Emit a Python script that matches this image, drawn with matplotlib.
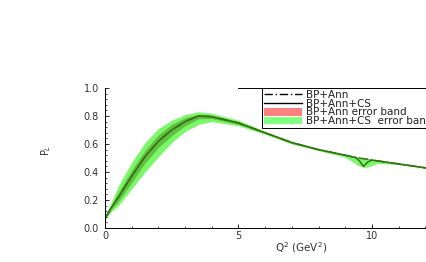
import numpy as np
import matplotlib
matplotlib.use('Agg')
import matplotlib.pyplot as plt
from matplotlib.lines import Line2D
from matplotlib.patches import Patch

plt.rcParams['font.family'] = ['DejaVu Sans']

#values
q = [0, 0.25, 0.5, 1, 1.5, 2, 2.5, 3, 3.5, 4, 5, 6, 7, 8, 9, 9.3, 9.5, 9.7, 9.9, 10.2, 11, 12, 13]
pAnn = [0.07, 0.15, 0.22, 0.37, 0.51, 0.62, 0.70, 0.76, 0.80, 0.795, 0.75, 0.68, 0.61, 0.56, 0.52,
        0.507, 0.50, 0.495, 0.49, 0.48, 0.458, 0.43, 0.41]
outerHi = [0.08, 0.19, 0.30, 0.47, 0.61, 0.71, 0.77, 0.81, 0.83, 0.82, 0.77, 0.69, 0.62, 0.567, 0.527,
           0.514, 0.506, 0.50, 0.496, 0.486, 0.463, 0.434, 0.414]
outerLo = [0.06, 0.12, 0.16, 0.28, 0.40, 0.51, 0.61, 0.69, 0.74, 0.76, 0.73, 0.67, 0.60, 0.553, 0.505,
           0.47, 0.445, 0.432, 0.438, 0.462, 0.453, 0.426, 0.406]
innerHi = [0.074, 0.168, 0.255, 0.415, 0.555, 0.665, 0.74, 0.788, 0.813, 0.806, 0.76, 0.685, 0.615, 0.563, 0.523,
           0.51, 0.503, 0.498, 0.493, 0.483, 0.461, 0.432, 0.412]
innerLo = [0.066, 0.135, 0.19, 0.325, 0.465, 0.575, 0.66, 0.73, 0.78, 0.782, 0.74, 0.675, 0.605, 0.557, 0.517,
           0.504, 0.497, 0.492, 0.487, 0.477, 0.455, 0.428, 0.408]
qCS = [0, 0.25, 0.5, 1, 1.5, 2, 2.5, 3, 3.5, 4, 5, 6, 7, 8, 9, 9.4, 9.55, 9.68, 9.85, 10.0, 11, 12, 13]
pCS = [0.07, 0.15, 0.22, 0.37, 0.51, 0.62, 0.70, 0.76, 0.80, 0.795, 0.75, 0.68, 0.61, 0.56, 0.52,
       0.503, 0.475, 0.44, 0.472, 0.485, 0.458, 0.43, 0.41]

fig = plt.figure(figsize=(4.27, 2.62), dpi=100)
ax = fig.add_axes([105/427, 34/262, 347/427, 140/262])

ax.fill_between(q, outerLo, outerHi, color='#7af86a', lw=0)
ax.fill_between(q, innerLo, innerHi, color='#62c040', lw=0)
ax.plot(q, pAnn, color='#3a7a1a', lw=1.1, ls='-.')
ax.plot(qCS, pCS, color='#357015', lw=1.1)

ax.set_xlim(0, 13)
ax.set_ylim(0, 1.0)
ax.set_xticks([0, 5, 10])
ax.set_xticks(np.arange(0, 13, 1), minor=True)
ax.set_yticks(np.arange(0, 1.01, 0.2))
ax.set_yticks(np.arange(0, 1.01, 0.04), minor=True)
ax.set_yticklabels(['0.0', '0.2', '0.4', '0.6', '0.8', '1.0'])
ax.tick_params(direction='in', labelsize=7, length=3, width=0.6, labelcolor='#333333')
ax.tick_params(axis='x', pad=2.5)
ax.tick_params(axis='y', pad=4.5)
ax.tick_params(which='minor', direction='in', length=1.5, width=0.5)
ax.spines['right'].set_visible(False)
ax.spines['top'].set_bounds(5, 13)
for s in ax.spines.values(): s.set_linewidth(0.7)

ax.set_xlabel('Q$^2$ (GeV$^2$)', fontsize=7.5, color='#333333')
ax.xaxis.set_label_coords(0.565, -0.09)
ax.set_ylabel('P$_L$', fontsize=7, color='#333333')
ax.yaxis.set_label_coords(-0.15, 0.557)

handles = [Line2D([], [], color='black', lw=1, ls=(0, (6, 2, 1, 2))),
           Line2D([], [], color='black', lw=1),
           Patch(facecolor='#ff8080', edgecolor='none'),
           Patch(facecolor='#80ff80', edgecolor='none')]
labels = ['BP+Ann', 'BP+Ann+CS', 'BP+Ann error band', 'BP+Ann+CS  error band']
leg = ax.legend(handles, labels, loc='upper left', bbox_to_anchor=(157/347, 1.0), fontsize=7.5,
                frameon=True, fancybox=False, edgecolor='black', framealpha=1, borderpad=0.2,
                handlelength=3.6, handleheight=0.75, labelspacing=-0.13, handletextpad=0.45, borderaxespad=0)
leg.get_frame().set_linewidth(0.7)
for t in leg.get_texts(): t.set_color('#222222')

fig.savefig('out.png', dpi=100)
